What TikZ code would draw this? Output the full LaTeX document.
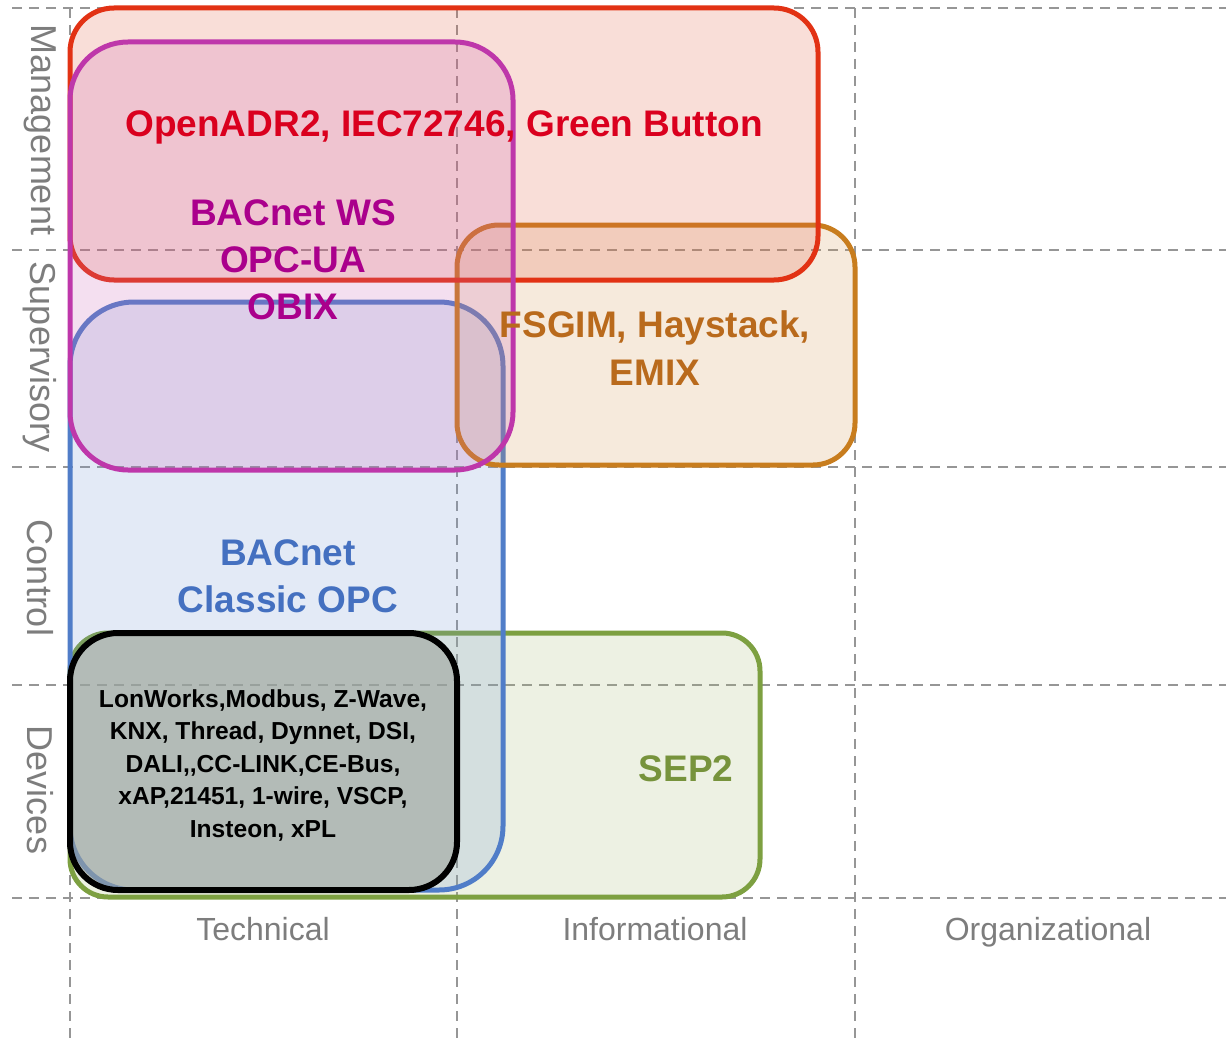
\documentclass[tikz,border=0pt]{standalone}
\usepackage{fontspec}
\setmainfont{Liberation Sans}
\definecolor{gridgray}{RGB}{150,150,150}
\definecolor{axisgray}{RGB}{125,125,125}
\definecolor{mgmtline}{RGB}{226,50,20}
\definecolor{mgmtfill}{RGB}{226,88,60}
\definecolor{mgmttext}{RGB}{218,0,30}
\definecolor{wsline}{RGB}{190,55,170}
\definecolor{wsfill}{RGB}{200,95,180}
\definecolor{wstext}{RGB}{170,0,140}
\definecolor{bacline}{RGB}{80,125,200}
\definecolor{bacfill}{RGB}{115,150,210}
\definecolor{bactext}{RGB}{68,112,192}
\definecolor{infoline}{RGB}{200,125,30}
\definecolor{infofill}{RGB}{210,150,80}
\definecolor{infotext}{RGB}{185,106,28}
\definecolor{sepline}{RGB}{125,160,65}
\definecolor{sepfill}{RGB}{165,185,115}
\definecolor{septext}{RGB}{119,147,60}
\definecolor{devfill}{RGB}{158,164,156}

\begin{document}
\begin{tikzpicture}[x=0.5pt,y=-0.5pt,
  gridline/.style={gridgray,line width=1pt,dash pattern=on 5pt off 3.5pt},
  layerbox/.style={line width=2.5pt,fill opacity=0.2},
  boxtext/.style={font=\bfseries\fontsize{18.5}{23.5}\selectfont,align=center,anchor=base},
  axistext/.style={text=axisgray,font=\fontsize{16}{19}\selectfont,anchor=base}]
  \useasboundingbox (0,0) rectangle (1226,1038);

  % grid of layers and aspects
  \foreach \y in {8,250,467,685,898}
    \draw[gridline] (12,\y) -- (1226,\y);
  \foreach \x in {70,457,855}
    \draw[gridline] (\x,8) -- (\x,1038);

  \draw[layerbox,draw=sepline,fill=sepfill,rounded corners=19pt] (70,633) rectangle (760,897);
  \draw[layerbox,draw=bacline,fill=bacfill,rounded corners=32pt] (70,302) rectangle (503,890);
  \draw[layerbox,draw=black,fill=devfill,fill opacity=0.6,line width=3pt,rounded corners=24pt] (70,633) rectangle (457,890);
  \draw[layerbox,draw=infoline,fill=infofill,rounded corners=21pt] (457,225) rectangle (855,465);
  \draw[layerbox,draw=mgmtline,fill=mgmtfill,rounded corners=22pt] (70,8) rectangle (818,280);
  \draw[layerbox,draw=wsline,fill=wsfill,rounded corners=29pt] (70,42) rectangle (513,470);

  % protocols (base = last line)
  \node[boxtext,text=mgmttext] (openadr) at (444,136) {OpenADR2, IEC72746, Green Button};
  \node[boxtext,text=wstext] (bacws) at (293,319) {BACnet WS\\OPC-UA\\OBIX};
  \node[boxtext,text=infotext,font=\bfseries\fontsize{18.5}{24}\selectfont] (fsgim) at (655,385) {FSGIM, Haystack,\\EMIX};
  \node[boxtext,text=bactext] (bacnet) at (288,612) {BACnet\\Classic OPC};
  \node[boxtext,font=\bfseries\fontsize{12.3}{16.2}\selectfont] (lonworks) at (263,837)
    {LonWorks,Modbus, Z-Wave,\\KNX, Thread, Dynnet, DSI,\\DALI,{},CC-LINK,CE-Bus,\\xAP,21451, 1-wire, VSCP,\\Insteon, xPL};
  \node[boxtext,text=septext] (sep) at (686,781) {SEP2};

  % axes
  \node[axistext] (technical) at (263,940) {Technical};
  \node[axistext] (informational) at (655,940) {Informational};
  \node[axistext] (organizational) at (1048,940) {Organizational};
  \foreach \name/\y/\txt in {mgmt/130/Management,superv/357/Supervisory,control/578/Control,devices/790/Devices}
    \node[axistext,anchor=center,rotate=-90,font=\fontsize{18}{21}\selectfont] (\name) at (40,\y) {\txt};
\end{tikzpicture}
\end{document}
